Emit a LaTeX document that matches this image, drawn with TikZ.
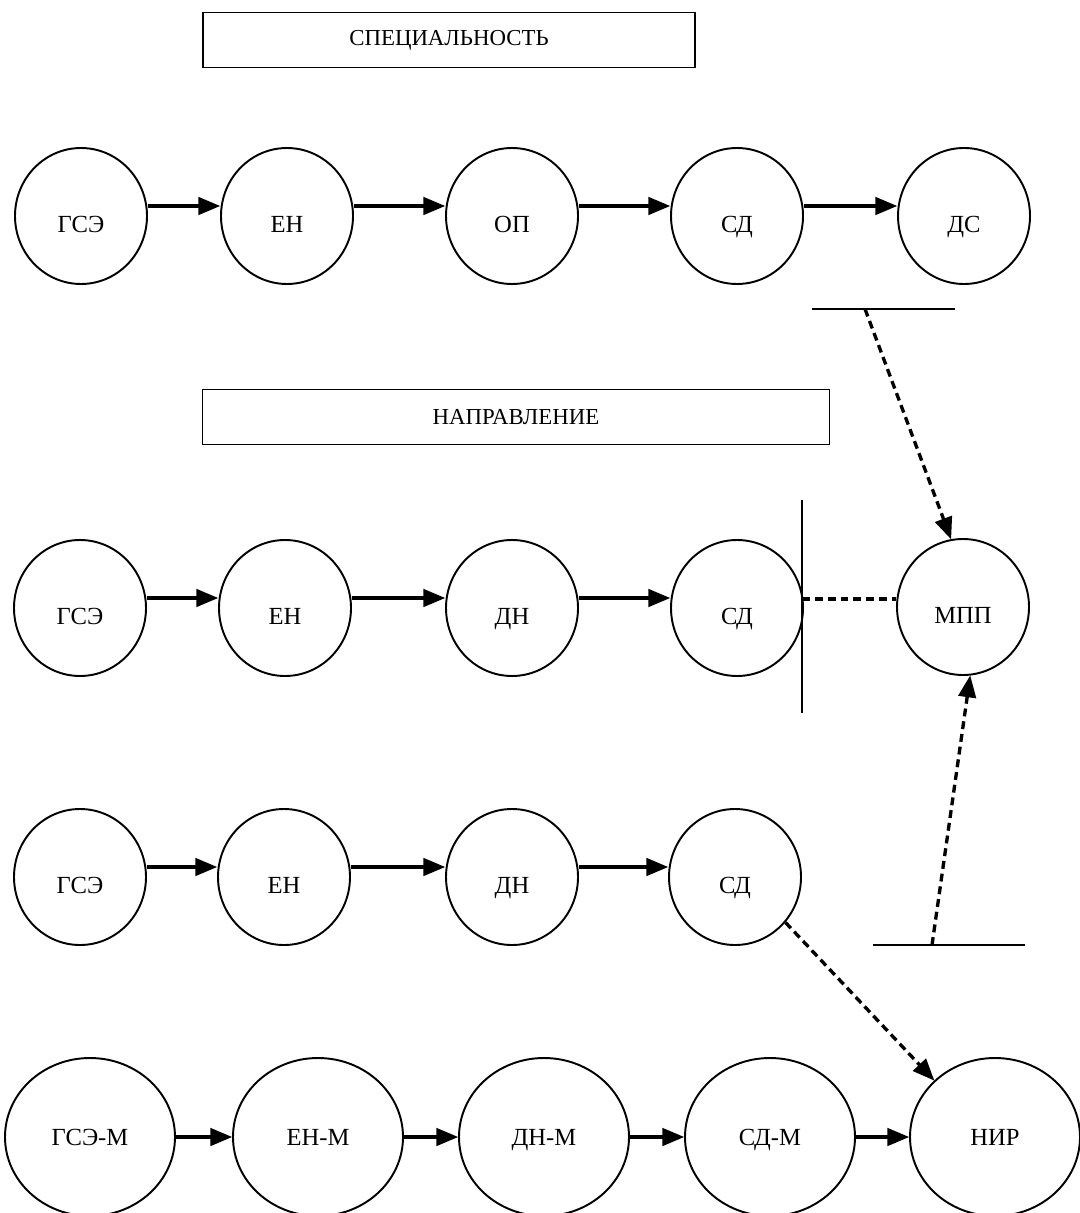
\documentclass[tikz,border=0pt]{standalone}
\usepackage{fontspec}
\setmainfont{Liberation Serif}
\usetikzlibrary{arrows, shapes.geometric}
\tikzset{
  crc/.style={ellipse, draw, line width=1.1pt, minimum width=26.4mm, minimum height=27.2mm, inner sep=0pt,
    text height=6.5mm, text depth=0pt, font=\fontsize{14}{16}\selectfont},
  crcm/.style={crc, minimum width=34mm, minimum height=31.6mm, text height=3.25mm},
  ttl/.style={draw, line width=1.1pt, minimum height=11mm, inner sep=0pt, font=\fontsize{13}{15}\selectfont},
  arr/.style={->, >=triangle 45, line width=1.9pt},
  darr/.style={arr, dash pattern=on 4.5pt off 2.8pt},
  dln/.style={line width=1.9pt, dash pattern=on 4.5pt off 2.8pt},
  bar/.style={line width=1.1pt},
  up/.style={yshift=2mm}
}

\begin{document}
\begin{tikzpicture}[x=0.2mm, y=-0.2mm]
		\useasboundingbox (0,0) rectangle (1080,1213);
		% titles
		\node[ttl, minimum width=98.4mm] (spec) at (449,40) {СПЕЦИАЛЬНОСТЬ};
		\node[ttl, minimum width=125.4mm] (napr) at (516,417) {НАПРАВЛЕНИЕ};
		% row 1
		\node[crc] (g1) at (81,216) {ГСЭ};
		\node[crc] (e1) at (287,216) {ЕН};
		\node[crc] (o1) at (512,216) {ОП};
		\node[crc] (s1) at (737,216) {СД};
		\node[crc] (d1) at (964,216) {ДС};
		\draw[arr] ([up]g1.east) -- ([up]e1.west);
		\draw[arr] ([up]e1.east) -- ([up]o1.west);
		\draw[arr] ([up]o1.east) -- ([up]s1.west);
		\draw[arr] ([up]s1.east) -- ([up]d1.west);
		% row 2
		\node[crc] (g2) at (80,608) {ГСЭ};
		\node[crc] (e2) at (285,608) {ЕН};
		\node[crc] (n2) at (512,608) {ДН};
		\node[crc] (s2) at (737,608) {СД};
		\node[crc] (m2) at (963,607) {МПП};
		\draw[arr] ([up]g2.east) -- ([up]e2.west);
		\draw[arr] ([up]e2.east) -- ([up]n2.west);
		\draw[arr] ([up]n2.east) -- ([up]s2.west);
		% row 3
		\node[crc] (g3) at (80,877) {ГСЭ};
		\node[crc] (e3) at (284,877) {ЕН};
		\node[crc] (n3) at (512,877) {ДН};
		\node[crc] (s3) at (735,877) {СД};
		\draw[arr] ([up]g3.east) -- ([up]e3.west);
		\draw[arr] ([up]e3.east) -- ([up]n3.west);
		\draw[arr] ([up]n3.east) -- ([up]s3.west);
		% row 4
		\node[crcm] (g4) at (90,1137) {ГСЭ-М};
		\node[crcm] (e4) at (318,1137) {ЕН-М};
		\node[crcm] (n4) at (544,1137) {ДН-М};
		\node[crcm] (s4) at (770,1137) {СД-М};
		\node[crcm] (r4) at (995,1137) {НИР};
		\draw[arr] (g4) -- (e4);
		\draw[arr] (e4) -- (n4);
		\draw[arr] (n4) -- (s4);
		\draw[arr] (s4) -- (r4);
		% bars and dashed links
		\coordinate (b1l) at (812,309);
		\coordinate (b1r) at (955,309);
		\coordinate (b1) at (865,309);
		\draw[bar] (b1l) -- (b1r);
		\draw[darr] (b1) -- (m2.100);
		\coordinate (v2t) at (802,500);
		\coordinate (v2b) at (802,713);
		\coordinate (v2) at (802,599);
		\draw[bar] (v2t) -- (v2b);
		\draw[dln] (v2) -- (m2.west |- v2);
		\coordinate (b3l) at (873,945);
		\coordinate (b3r) at (1025,945);
		\coordinate (b3) at (932,945);
		\draw[bar] (b3l) -- (b3r);
		\draw[darr] (b3) -- (m2.-84);
		\draw[darr] (s3.-42) -- (r4.north west);
	\end{tikzpicture}
\end{document}
